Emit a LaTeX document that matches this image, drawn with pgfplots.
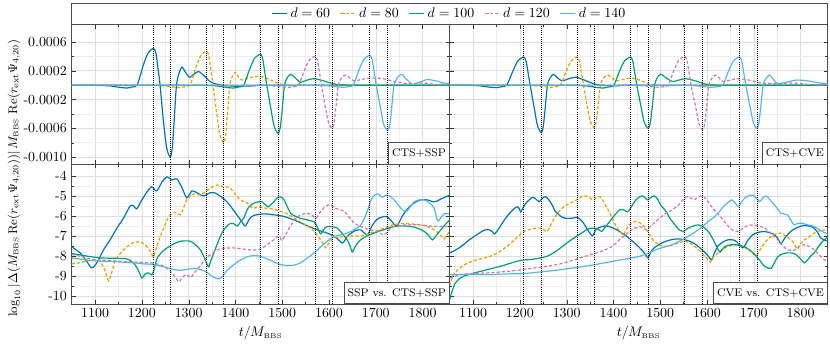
\documentclass[border=0pt]{standalone}
\usepackage{pgfplots}
\pgfplotsset{compat=1.18}
\usepgfplotslibrary{groupplots}
\definecolor{c60}{HTML}{0072B2}
\definecolor{c80}{HTML}{E69F00}
\definecolor{c100}{HTML}{009E73}
\definecolor{c120}{HTML}{CC79A7}
\definecolor{c140}{HTML}{56B4E9}
\newcommand{\vls}[3]{\pgfplotsinvokeforeach{#1}{\draw[vl] (axis cs:##1,#2) -- (axis cs:##1,#3);}}
\tikzset{
  s60/.style={color=c60, line width=0.85pt, smooth, tension=0.45},
  s80/.style={color=c80, line width=0.85pt, smooth, tension=0.45, dash pattern=on 2.3pt off 1.5pt},
  s100/.style={color=c100, line width=0.85pt, smooth, tension=0.45},
  s120/.style={color=c120, line width=0.85pt, smooth, tension=0.45, dash pattern=on 2.3pt off 1.5pt},
  s140/.style={color=c140, line width=0.85pt, smooth, tension=0.45},
}
\begin{document}
\begin{tikzpicture}[
  vl/.style={black, densely dotted, line width=0.5pt},
  lab/.style={draw=black!70, fill=white, font=\footnotesize, inner sep=2.5pt, minimum height=15.3pt, anchor=south east}]
\begin{groupplot}[
  group style={group size=2 by 2, horizontal sep=0pt, vertical sep=0pt,
    xticklabels at=edge bottom, yticklabels at=edge left},
  width=272.16pt, height=100.51pt, scale only axis,
  xmin=1050, xmax=1858,
  xtick={1100,1200,...,1800}, minor x tick num=1,
  xticklabel style={/pgf/number format/1000 sep={}},
  grid=both, major grid style={black!13, line width=0.4pt}, minor grid style={black!7, line width=0.3pt},
  axis line style={black!70}, tick style={black!80},
  major tick length=3pt, minor tick length=1.7pt,
  scaled y ticks=false,
  tick label style={font=\normalsize},
  x label style={at={(axis description cs:0.5,-0.208)}, anchor=center},
  legend image code/.code={\draw[mark repeat=2,mark phase=2] plot coordinates {(0pt,0pt) (5.5pt,0pt) (11pt,0pt)};},
]
% ---------- top left: CTS+SSP
\nextgroupplot[ymin=-0.0011, ymax=0.00084,
  ytick={-0.0010,-0.0006,-0.0002,0.0002,0.0006},
  yticklabels={-0.0010,-0.0006,-0.0002,0.0002,0.0006},
  minor ytick={-0.0008,-0.0004,0,0.0004},
  legend columns=5,
  legend style={at={(1,1)}, anchor=center, yshift=7.85pt, draw=none, fill=none, font=\normalsize,
    /tikz/every even column/.append style={column sep=5pt}},
]
\addplot[s60] coordinates {(1050,0) (1100,-0.000003) (1130,-0.00001) (1150,-0.000028) (1168,-0.00004) (1180,-0.000024) (1190,0) (1202,0.000255) (1213,0.000444) (1225,0.00051) (1230,0.000444) (1234,0.000255) (1239,0) (1246,-0.0005) (1253,-0.00087) (1260.6,-0.001) (1265,-0.00087) (1269,-0.0005) (1274,0) (1280,0.000175) (1286,0.00025) (1294,0.00017) (1302,0.00011) (1311,0.00015) (1321,0.00019) (1333,0.00013) (1348,0.00004) (1370,0) (1400,-0.000015) (1440,-0.00001) (1480,0) (1858,0)};
\addplot[s80] coordinates {(1050,0) (1190,0) (1245,-0.000009) (1265,-0.000025) (1282,-0.000035) (1293,-0.00002) (1303,0) (1315,0.000235) (1326,0.00041) (1338,0.00047) (1343,0.00041) (1347,0.000235) (1352,0) (1360,-0.0004) (1367,-0.0007) (1375,-0.0008) (1379,-0.0007) (1383,-0.0004) (1388,0) (1394,0.00013) (1400,0.00018) (1407,0.00011) (1414,0.00007) (1427,0.0001) (1442,0.00012) (1456,0.00012) (1472,0.00008) (1490,0.00003) (1510,-0.000005) (1530,-0.00001) (1560,0) (1858,0)};
\addplot[s100] coordinates {(1050,0) (1300,0) (1358,-0.00001) (1378,-0.000028) (1396,-0.00004) (1408,-0.000024) (1418,0) (1430,0.000215) (1441,0.000374) (1453.5,0.00043) (1458,0.000374) (1462,0.000215) (1467,0) (1476,-0.000335) (1483,-0.00058) (1491.5,-0.00067) (1496,-0.00058) (1500,-0.000335) (1505,0) (1511,0.000105) (1518,0.00015) (1528,0.0001) (1539,0.00004) (1553,0.00007) (1568,0.00009) (1588,0.00006) (1610,0.00002) (1640,0) (1858,0)};
\addplot[s120] coordinates {(1050,0) (1420,0) (1475,-0.000008) (1495,-0.00002) (1515,-0.00003) (1526,-0.00002) (1535,0) (1547,0.0002) (1558,0.000348) (1570,0.0004) (1575,0.000348) (1579,0.0002) (1584,0) (1592,-0.0003) (1599,-0.00052) (1607,-0.0006) (1611,-0.00052) (1615,-0.0003) (1620,0) (1627,0.0001) (1635,0.00014) (1644,0.0001) (1653,0.00006) (1670,0.00008) (1690,0.0001) (1715,0.00009) (1740,0.00005) (1770,0.00002) (1800,0.00003) (1830,0.00001) (1858,0.00002)};
\addplot[s140] coordinates {(1050,0) (1540,0) (1592,-0.000008) (1612,-0.00002) (1630,-0.00003) (1642,-0.00002) (1652,0) (1664,0.00021) (1675,0.00036) (1687,0.000415) (1692,0.00036) (1696,0.00021) (1701,0) (1710,-0.000315) (1717,-0.00055) (1725.6,-0.00063) (1730,-0.00055) (1734,-0.000315) (1739,0) (1746,0.0001) (1755,0.00015) (1766,0.00008) (1778,0.00001) (1794,0.00004) (1810,0.000077) (1828,0.00006) (1845,0.00003) (1858,0.00002)};
\legend{$d=60$,$d=80$,$d=100$,$d=120$,$d=140$}
\vls{1225,1260.6,1338,1375,1453.5,1491.5,1570,1607,1687,1725.6}{-0.0011}{0.00084}
\node[lab] at (rel axis cs:1,0) {CTS+SSP};
% ---------- top right: CTS+CVE
\nextgroupplot[ymin=-0.0011, ymax=0.00084,
  ytick={-0.0010,-0.0006,-0.0002,0.0002,0.0006},
  minor ytick={-0.0008,-0.0004,0,0.0004}]
\addplot[s60] coordinates {(1050,0) (1090,-0.000002) (1115,-0.00001) (1132,-0.000025) (1149,-0.000035) (1161,-0.000022) (1172,0) (1185,0.000195) (1196,0.00034) (1208,0.00039) (1213,0.00034) (1217,0.000195) (1222,0) (1231,-0.00033) (1238,-0.000575) (1246,-0.00066) (1250,-0.000575) (1254,-0.00033) (1259,0) (1265,0.000105) (1272,0.00015) (1281,0.0001) (1290,0.00006) (1305,0.00009) (1320,0.00011) (1338,0.00007) (1358,0.00002) (1380,-0.000005) (1410,-0.00001) (1450,0) (1858,0)};
\addplot[s80] coordinates {(1050,0) (1180,0) (1228,-0.000008) (1248,-0.00002) (1265,-0.00003) (1277,-0.00002) (1287,0) (1299,0.000195) (1310,0.00034) (1322,0.00039) (1327,0.00034) (1331,0.000195) (1336,0) (1344,-0.000295) (1351,-0.000513) (1359,-0.00059) (1363,-0.000513) (1367,-0.000295) (1372,0) (1379,0.0001) (1388,0.00014) (1397,0.0001) (1406,0.00006) (1422,0.00008) (1438,0.0001) (1456,0.00007) (1475,0.00002) (1495,-0.000005) (1520,-0.00001) (1550,0) (1858,0)};
\addplot[s100] coordinates {(1050,0) (1290,0) (1340,-0.00001) (1360,-0.000028) (1378,-0.00004) (1390,-0.000024) (1401,0) (1413,0.000195) (1424,0.00034) (1436.5,0.00039) (1441,0.00034) (1445,0.000195) (1450,0) (1459,-0.0003) (1466,-0.00052) (1474.5,-0.0006) (1479,-0.00052) (1483,-0.0003) (1488,0) (1494,0.000105) (1501,0.00015) (1513,0.0001) (1526,0.00005) (1540,0.00007) (1554,0.00009) (1575,0.00006) (1595,0.00002) (1625,0) (1858,0)};
\addplot[s120] coordinates {(1050,0) (1410,0) (1460,-0.000008) (1480,-0.00002) (1498,-0.00003) (1508,-0.00002) (1517,0) (1529,0.0002) (1540,0.000348) (1552,0.0004) (1557,0.000348) (1561,0.0002) (1566,0) (1576,-0.00031) (1583,-0.00054) (1591,-0.00062) (1595,-0.00054) (1599,-0.00031) (1604,0) (1611,0.0001) (1619,0.00014) (1626,0.0001) (1634,0.00005) (1650,0.00007) (1667,0.00009) (1690,0.00007) (1715,0.00003) (1745,0.00002) (1780,0.00003) (1820,0.00001) (1858,0.00001)};
\addplot[s140] coordinates {(1050,0) (1520,0) (1572,-0.000008) (1592,-0.00002) (1610,-0.00003) (1623,-0.00002) (1634,0) (1646,0.000195) (1657,0.00034) (1669,0.00039) (1674,0.00034) (1678,0.000195) (1683,0) (1692,-0.0003) (1699,-0.00052) (1707,-0.0006) (1711,-0.00052) (1715,-0.0003) (1720,0) (1727,0.0001) (1734,0.00014) (1742,0.00008) (1751,0.00002) (1770,0.00004) (1790,0.00007) (1815,0.00006) (1842,0.00003) (1858,0.00002)};
\vls{1208,1246,1322,1359,1436.5,1474.5,1552,1591,1669,1707}{-0.0011}{0.00084}
\node[lab] at (rel axis cs:1,0) {CTS+CVE};
% ---------- bottom left: SSP vs CTS+SSP
\nextgroupplot[ymin=-10.4, ymax=-3.42,
  ytick={-10,-9,-8,-7,-6,-5,-4}, yticklabels={-10,-9,-8,-7,-6,-5,-4},
  minor y tick num=1,
  xlabel={$t/M_{\mbox{\tiny BBS}}$}]
\addplot[s60] coordinates {(1050,-7.55) (1068,-7.85) (1080,-8.2) (1093,-8.6) (1105,-8.3) (1118,-7.7) (1132,-7.2) (1147,-6.6) (1161,-6.1) (1175,-5.5) (1182,-5.5) (1189,-5.65) (1200,-5.2) (1211,-4.8) (1221,-4.55) (1232,-4.75) (1243,-4.3) (1254,-4.05) (1264,-4.2) (1275,-4.15) (1286,-4.6) (1296,-5.1) (1307,-4.75) (1318,-4.85) (1332,-5.0) (1345,-4.85) (1356,-4.85) (1370,-5.05) (1382,-5.3) (1397,-5.75) (1411,-6.2) (1421,-6.5) (1430,-6.15) (1439,-5.98) (1461,-5.9) (1483,-5.95) (1504,-6.03) (1530,-6.25) (1554,-6.5) (1575,-6.7) (1596,-6.86) (1613,-7.05) (1629,-7.35) (1640,-7.0) (1655,-6.75) (1668,-6.7) (1682,-6.95) (1693,-6.45) (1704,-6.15) (1715,-6.05) (1725,-6.05) (1735,-6.3) (1745,-6.5) (1757,-6.0) (1768,-5.65) (1782,-5.35) (1796,-5.2) (1810,-5.2) (1825,-5.3) (1840,-5.15) (1858,-4.96)};
\addplot[s80] coordinates {(1050,-8.4) (1065,-8.35) (1082,-8.26) (1100,-8.2) (1112,-8.3) (1122,-8.8) (1129,-9.25) (1136,-8.8) (1143,-8.25) (1155,-7.85) (1168,-7.55) (1180,-7.35) (1193,-7.3) (1205,-7.4) (1213,-7.6) (1220,-7.85) (1225,-8.05) (1231,-7.6) (1239,-7.05) (1247,-6.6) (1254,-6.2) (1261,-5.95) (1268,-5.85) (1275,-5.85) (1282,-5.95) (1289,-5.6) (1296,-5.2) (1304,-5.0) (1311,-4.9) (1318,-4.95) (1325,-4.95) (1332,-4.85) (1339,-4.75) (1347,-4.6) (1356,-4.5) (1364,-4.45) (1372,-4.55) (1380,-4.55) (1389,-4.6) (1397,-4.85) (1404,-5.05) (1414,-5.25) (1425,-5.35) (1433,-5.55) (1439,-5.62) (1447,-5.55) (1454,-5.55) (1461,-5.6) (1468,-5.62) (1478,-5.65) (1489,-5.72) (1500,-5.8) (1511,-5.9) (1525,-6.1) (1539,-6.3) (1550,-6.45) (1561,-6.62) (1571,-6.85) (1582,-7.2) (1588,-7.4) (1593,-7.6) (1600,-7.35) (1611,-7.1) (1625,-7.05) (1639,-7.02) (1654,-7.0) (1668,-7.0) (1680,-6.95) (1689,-6.86) (1705,-6.72) (1718,-6.6) (1736,-6.45) (1754,-6.38) (1775,-6.4) (1796,-6.45) (1812,-6.55) (1825,-6.7) (1840,-7.0) (1846,-7.15) (1852,-6.95) (1858,-6.78)};
\addplot[s100] coordinates {(1050,-7.88) (1080,-8.0) (1111,-8.1) (1140,-8.12) (1168,-8.15) (1182,-8.35) (1192,-8.7) (1200,-9.1) (1207,-8.9) (1214,-8.85) (1221,-8.95) (1226,-8.7) (1232,-8.15) (1243,-7.8) (1254,-7.6) (1268,-7.4) (1282,-7.27) (1293,-7.25) (1304,-7.27) (1315,-7.45) (1325,-7.7) (1334,-8.1) (1339,-8.4) (1343,-8.55) (1348,-8.2) (1354,-7.85) (1362,-7.35) (1371,-6.86) (1380,-6.55) (1389,-6.38) (1397,-6.4) (1404,-6.5) (1411,-6.3) (1418,-6.1) (1424,-5.75) (1429,-5.55) (1439,-5.37) (1448,-5.3) (1457,-5.3) (1464,-5.45) (1471,-5.55) (1477,-5.4) (1482,-5.3) (1489,-5.1) (1497,-5.05) (1504,-5.2) (1511,-5.55) (1518,-5.87) (1528,-6.02) (1539,-6.12) (1553,-6.2) (1568,-6.3) (1575,-6.55) (1582,-6.9) (1591,-6.6) (1600,-6.53) (1609,-6.55) (1618,-6.62) (1629,-6.9) (1639,-7.2) (1645,-7.5) (1650,-7.8) (1658,-7.45) (1668,-7.19) (1682,-7.0) (1696,-6.86) (1718,-6.68) (1739,-6.53) (1757,-6.5) (1775,-6.53) (1790,-6.62) (1804,-6.78) (1814,-7.0) (1821,-7.2) (1830,-6.95) (1839,-6.7) (1848,-6.45) (1858,-6.2)};
\addplot[s120] coordinates {(1050,-7.93) (1075,-8.05) (1096,-8.18) (1120,-8.22) (1146,-8.26) (1180,-8.3) (1218,-8.35) (1235,-8.42) (1246,-8.51) (1258,-8.7) (1268,-8.95) (1274,-9.15) (1279,-9.3) (1286,-9.1) (1293,-8.95) (1300,-9.0) (1305,-9.08) (1312,-8.85) (1325,-8.5) (1334,-8.2) (1343,-8.0) (1352,-7.85) (1361,-7.7) (1375,-7.62) (1396,-7.6) (1414,-7.65) (1432,-7.7) (1448,-7.7) (1458,-7.6) (1470,-7.4) (1482,-7.2) (1489,-7.05) (1493,-7.02) (1497,-7.15) (1500,-7.22) (1508,-6.9) (1518,-6.5) (1528,-6.15) (1539,-5.95) (1554,-5.87) (1564,-5.98) (1572,-6.12) (1580,-5.85) (1589,-5.6) (1598,-5.45) (1607,-5.5) (1614,-5.62) (1625,-5.7) (1632,-5.75) (1639,-5.95) (1654,-6.36) (1668,-6.53) (1689,-6.7) (1705,-6.78) (1715,-6.95) (1721,-6.9) (1730,-6.65) (1739,-6.53) (1754,-6.47) (1768,-6.45) (1796,-6.45) (1825,-6.53) (1858,-6.53)};
\addplot[s140] coordinates {(1050,-8.1) (1080,-8.2) (1111,-8.26) (1150,-8.3) (1182,-8.35) (1205,-8.4) (1225,-8.43) (1247,-8.55) (1268,-8.68) (1282,-8.72) (1296,-8.68) (1311,-8.62) (1325,-8.68) (1339,-8.82) (1352,-9.05) (1366,-9.15) (1375,-8.95) (1382,-8.72) (1396,-8.45) (1411,-8.2) (1425,-8.05) (1439,-7.98) (1454,-8.03) (1468,-8.15) (1482,-8.3) (1496,-8.43) (1510,-8.48) (1524,-8.47) (1539,-8.35) (1554,-8.1) (1568,-7.85) (1582,-7.55) (1596,-7.27) (1610,-7.05) (1625,-6.94) (1639,-6.85) (1654,-6.7) (1668,-6.45) (1675,-6.15) (1682,-5.75) (1689,-5.25) (1696,-4.98) (1704,-4.9) (1710,-5.0) (1714,-5.07) (1720,-4.98) (1725,-4.96) (1732,-5.05) (1739,-5.2) (1747,-5.42) (1754,-5.62) (1764,-5.8) (1772,-5.6) (1782,-5.3) (1793,-5.2) (1804,-5.2) (1815,-5.35) (1825,-5.62) (1832,-6.25) (1839,-6.1) (1846,-5.9) (1858,-5.9)};
\vls{1225,1260.6,1338,1375,1453.5,1491.5,1570,1607,1687,1725.6}{-10.4}{-3.42}
\node[lab] at (rel axis cs:1,0) {SSP vs. CTS+SSP};
% ---------- bottom right: CVE vs CTS+CVE
\nextgroupplot[ymin=-10.4, ymax=-3.42,
  ytick={-10,-9,-8,-7,-6,-5,-4}, minor y tick num=1,
  xlabel={$t/M_{\mbox{\tiny BBS}}$}]
\addplot[s60] coordinates {(1050,-7.85) (1063,-7.7) (1075,-7.52) (1089,-7.25) (1103,-7.02) (1114,-6.85) (1125,-6.7) (1135,-6.7) (1141,-6.78) (1146,-6.9) (1153,-6.7) (1160,-6.45) (1170,-6.1) (1181,-5.79) (1190,-5.6) (1195,-5.54) (1199,-5.65) (1202,-5.8) (1209,-5.5) (1216,-5.29) (1227,-5.07) (1234,-5.15) (1241,-5.29) (1248,-5.12) (1255,-5.04) (1262,-5.2) (1269,-5.45) (1275,-5.75) (1280,-5.87) (1289,-6.05) (1297,-6.12) (1311,-6.12) (1322,-6.07) (1330,-6.2) (1336,-6.36) (1345,-6.7) (1355,-7.0) (1361,-6.75) (1367,-6.61) (1376,-6.53) (1385,-6.5) (1399,-6.6) (1413,-6.78) (1427,-7.0) (1441,-7.27) (1452,-7.5) (1463,-7.77) (1469,-7.95) (1474,-8.1) (1480,-7.8) (1487,-7.6) (1500,-7.4) (1512,-7.27) (1526,-7.18) (1540,-7.15) (1554,-7.2) (1568,-7.32) (1580,-7.5) (1589,-7.69) (1598,-7.88) (1604,-8.05) (1610,-8.2) (1616,-7.85) (1624,-7.49) (1635,-7.3) (1646,-7.19) (1659,-7.22) (1668,-7.4) (1677,-7.6) (1688,-7.2) (1698,-6.94) (1710,-6.82) (1723,-6.78) (1735,-6.85) (1744,-6.94) (1752,-7.15) (1758,-7.39) (1768,-7.05) (1779,-6.78) (1793,-6.58) (1807,-6.48) (1820,-6.52) (1829,-6.61) (1837,-6.85) (1843,-7.1) (1850,-7.2) (1858,-7.25)};
\addplot[s80] coordinates {(1050,-9.5) (1055,-9.1) (1061,-8.84) (1075,-8.55) (1089,-8.35) (1107,-8.2) (1125,-8.1) (1139,-8.0) (1153,-7.85) (1167,-7.62) (1181,-7.36) (1195,-7.05) (1209,-6.78) (1225,-6.65) (1244,-6.61) (1251,-6.68) (1258,-6.78) (1267,-6.4) (1276,-6.03) (1285,-5.75) (1294,-5.54) (1305,-5.4) (1315,-5.29) (1324,-5.15) (1332,-5.04) (1340,-5.0) (1346,-5.04) (1352,-5.15) (1357,-5.2) (1364,-5.08) (1371,-5.04) (1378,-5.25) (1385,-5.54) (1392,-5.85) (1399,-6.2) (1408,-6.6) (1417,-6.86) (1421,-6.95) (1427,-6.7) (1434,-6.45) (1441,-6.32) (1448,-6.28) (1457,-6.35) (1466,-6.53) (1475,-6.85) (1484,-7.19) (1495,-7.4) (1505,-7.52) (1515,-7.5) (1526,-7.44) (1540,-7.35) (1554,-7.27) (1568,-7.42) (1582,-7.69) (1595,-8.0) (1603,-8.2) (1607,-8.3) (1614,-8.05) (1624,-7.85) (1635,-7.65) (1646,-7.52) (1657,-7.45) (1667,-7.44) (1678,-7.55) (1688,-7.69) (1697,-7.85) (1705,-8.0) (1712,-7.75) (1723,-7.36) (1733,-7.1) (1744,-6.94) (1751,-6.88) (1758,-6.86) (1768,-7.0) (1779,-7.19) (1787,-7.4) (1793,-7.65) (1800,-7.4) (1808,-7.2) (1815,-7.11) (1825,-6.92) (1836,-6.78) (1846,-6.72) (1858,-6.7)};
\addplot[s100] coordinates {(1050,-10.2) (1054,-9.85) (1061,-9.4) (1070,-9.15) (1082,-9.0) (1100,-8.87) (1118,-8.76) (1140,-8.63) (1160,-8.51) (1178,-8.38) (1195,-8.26) (1210,-8.2) (1223,-8.18) (1240,-8.12) (1258,-8.02) (1272,-7.85) (1287,-7.6) (1301,-7.35) (1315,-7.11) (1329,-6.9) (1343,-6.69) (1352,-6.62) (1360,-6.61) (1368,-6.68) (1375,-6.78) (1383,-6.55) (1392,-6.28) (1402,-5.98) (1413,-5.7) (1420,-5.68) (1426,-5.75) (1431,-5.79) (1440,-5.48) (1448,-5.2) (1456,-5.05) (1463,-5.0) (1468,-5.1) (1473,-5.2) (1480,-5.08) (1487,-5.0) (1494,-5.15) (1501,-5.45) (1508,-5.65) (1515,-5.87) (1520,-6.1) (1526,-6.28) (1533,-6.5) (1540,-6.69) (1545,-6.75) (1550,-6.78) (1559,-6.62) (1568,-6.53) (1575,-6.47) (1582,-6.45) (1592,-6.55) (1603,-6.78) (1610,-7.05) (1617,-7.36) (1623,-7.65) (1628,-7.82) (1633,-7.65) (1639,-7.52) (1649,-7.45) (1659,-7.44) (1670,-7.48) (1681,-7.55) (1692,-7.72) (1702,-7.93) (1712,-8.2) (1720,-8.45) (1728,-8.58) (1737,-8.62) (1745,-8.3) (1751,-8.05) (1758,-7.93) (1768,-7.86) (1779,-7.85) (1789,-7.92) (1798,-8.1) (1804,-8.25) (1808,-8.35) (1815,-8.2) (1822,-8.0) (1829,-7.85) (1838,-7.55) (1846,-7.3) (1858,-7.05)};
\addplot[s120] coordinates {(1050,-9.1) (1075,-8.93) (1100,-8.88) (1139,-8.84) (1175,-8.77) (1209,-8.68) (1245,-8.56) (1280,-8.43) (1305,-8.28) (1329,-8.1) (1347,-7.97) (1364,-7.85) (1378,-7.73) (1392,-7.6) (1403,-7.42) (1413,-7.19) (1424,-6.98) (1434,-6.78) (1445,-6.62) (1456,-6.53) (1463,-6.58) (1470,-6.69) (1480,-6.5) (1491,-6.28) (1502,-6.05) (1512,-5.87) (1519,-5.78) (1526,-5.7) (1534,-5.55) (1543,-5.37) (1550,-5.15) (1558,-5.04) (1565,-5.1) (1572,-5.2) (1580,-5.08) (1589,-5.0) (1598,-5.15) (1610,-5.54) (1621,-5.85) (1632,-6.12) (1643,-6.45) (1653,-6.69) (1660,-6.76) (1667,-6.78) (1675,-6.65) (1685,-6.5) (1695,-6.45) (1709,-6.5) (1723,-6.61) (1737,-6.88) (1751,-7.19) (1762,-7.5) (1772,-7.69) (1781,-7.72) (1790,-7.69) (1798,-7.52) (1807,-7.44) (1818,-7.52) (1829,-7.69) (1838,-7.9) (1846,-8.1) (1858,-8.3)};
\addplot[s140] coordinates {(1050,-8.93) (1100,-8.93) (1139,-8.93) (1175,-8.9) (1209,-8.88) (1245,-8.8) (1280,-8.71) (1315,-8.6) (1350,-8.48) (1385,-8.33) (1420,-8.18) (1440,-8.1) (1456,-8.02) (1474,-7.88) (1491,-7.69) (1509,-7.56) (1526,-7.44) (1540,-7.28) (1554,-7.11) (1568,-6.9) (1582,-6.69) (1593,-6.48) (1603,-6.28) (1610,-6.15) (1617,-6.03) (1626,-5.8) (1635,-5.54) (1644,-5.35) (1653,-5.2) (1660,-5.35) (1667,-5.54) (1674,-5.3) (1681,-5.1) (1688,-5.0) (1698,-4.96) (1705,-5.1) (1712,-5.29) (1719,-5.12) (1726,-5.0) (1735,-5.2) (1744,-5.45) (1751,-5.65) (1758,-5.87) (1765,-5.9) (1772,-5.95) (1779,-6.2) (1786,-6.45) (1793,-6.38) (1800,-6.36) (1808,-6.4) (1815,-6.45) (1829,-6.53) (1846,-6.78) (1858,-6.9)};
\vls{1208,1246,1322,1359,1436.5,1474.5,1552,1591,1669,1707}{-10.4}{-3.42}
\node[lab] at (rel axis cs:1,0) {CVE vs. CTS+CVE};
\end{groupplot}
\draw[black!70] (group c1r1.north west) rectangle ([yshift=15.62pt] group c2r1.north east);
\node[rotate=90, anchor=center, font=\fontsize{9}{11}\selectfont, inner sep=0pt] at ([xshift=-41.6pt, yshift=150.77pt] group c1r2.south west) {$M_{\mbox{\tiny BBS}}\ \mathrm{Re}(r_{\mathrm{ext}}\Psi_{4,20})$};
\node[rotate=90, anchor=center, font=\fontsize{9}{11}\selectfont, inner sep=0pt] at ([xshift=-41.6pt, yshift=50.26pt] group c1r2.south west) {$\log_{10}|\Delta(M_{\mbox{\tiny BBS}}\,\mathrm{Re}(r_{\mathrm{ext}}\Psi_{4,20}))|$};
\pgfresetboundingbox
\path ([xshift=-51.62pt, yshift=17.78pt] group c1r1.north west) rectangle ([xshift=1.66pt, yshift=-30.24pt] group c2r2.south east);
\end{tikzpicture}
\end{document}
